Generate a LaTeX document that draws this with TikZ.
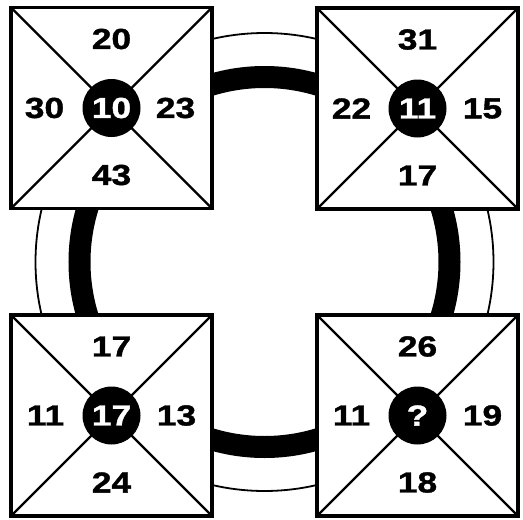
\documentclass[tikz,border=0pt]{standalone}
\usepackage{fontspec}
\newfontfamily\numfont{Liberation Sans}[FakeStretch=1.22,FakeBold=1.3]
\begin{document}
\begin{tikzpicture}[x=1pt,y=-1pt,
  sq/.style={draw,line width=3.5pt,fill=white,minimum size=201pt,inner sep=0pt,outer sep=0pt},
  diag/.style={line width=2.2pt},
  ring/.style={line width=1.8pt},
  thickring/.style={line width=22pt},
  hub/.style={circle,fill=black,minimum size=58pt,inner sep=0pt,text=white,font=\numfont\bfseries\fontsize{29}{29}\selectfont},
  num/.style={font=\numfont\bfseries\fontsize{29}{29}\selectfont,inner sep=0pt}]
\useasboundingbox (0,0) rectangle (523,520);
\coordinate (O) at (264.5,262);
\draw[ring] (O) circle[radius=229pt];
\draw[thickring] (O) circle[radius=185pt];
% squares
\node[sq] (tl) at (111.5,108) {};
\node[sq] (tr) at (417.5,108.5) {};
\node[sq] (bl) at (111.5,415.5) {};
\node[sq] (br) at (417.5,415.5) {};
\foreach \s in {tl,tr,bl,br}{
  \draw[diag] (\s.north west) -- (\s.south east);
  \draw[diag] (\s.north east) -- (\s.south west);
}
% hubs
\node[hub] (htl) at (tl) {10};
\node[hub] (htr) at (tr) {11};
\node[hub] (hbl) at (bl) {17};
\node[hub] (hbr) at (br) {?};
% numbers
\node[num] (tlN) at ([yshift=69pt]tl.center) {20};
\node[num] (tlS) at ([yshift=-67pt]tl.center) {43};
\node[num] (tlW) at ([xshift=-67pt]tl.center) {30};
\node[num] (tlE) at ([xshift=64pt]tl.center) {23};
\node[num] (trN) at ([yshift=69pt]tr.center) {31};
\node[num] (trS) at ([yshift=-67pt]tr.center) {17};
\node[num] (trW) at ([xshift=-66pt]tr.center) {22};
\node[num] (trE) at ([xshift=65pt]tr.center) {15};
\node[num] (blN) at ([yshift=69pt]bl.center) {17};
\node[num] (blS) at ([yshift=-67pt]bl.center) {24};
\node[num] (blW) at ([xshift=-66pt]bl.center) {11};
\node[num] (blE) at ([xshift=65pt]bl.center) {13};
\node[num] (brN) at ([yshift=69pt]br.center) {26};
\node[num] (brS) at ([yshift=-67pt]br.center) {18};
\node[num] (brW) at ([xshift=-66pt]br.center) {11};
\node[num] (brE) at ([xshift=65pt]br.center) {19};
\end{tikzpicture}
\end{document}
